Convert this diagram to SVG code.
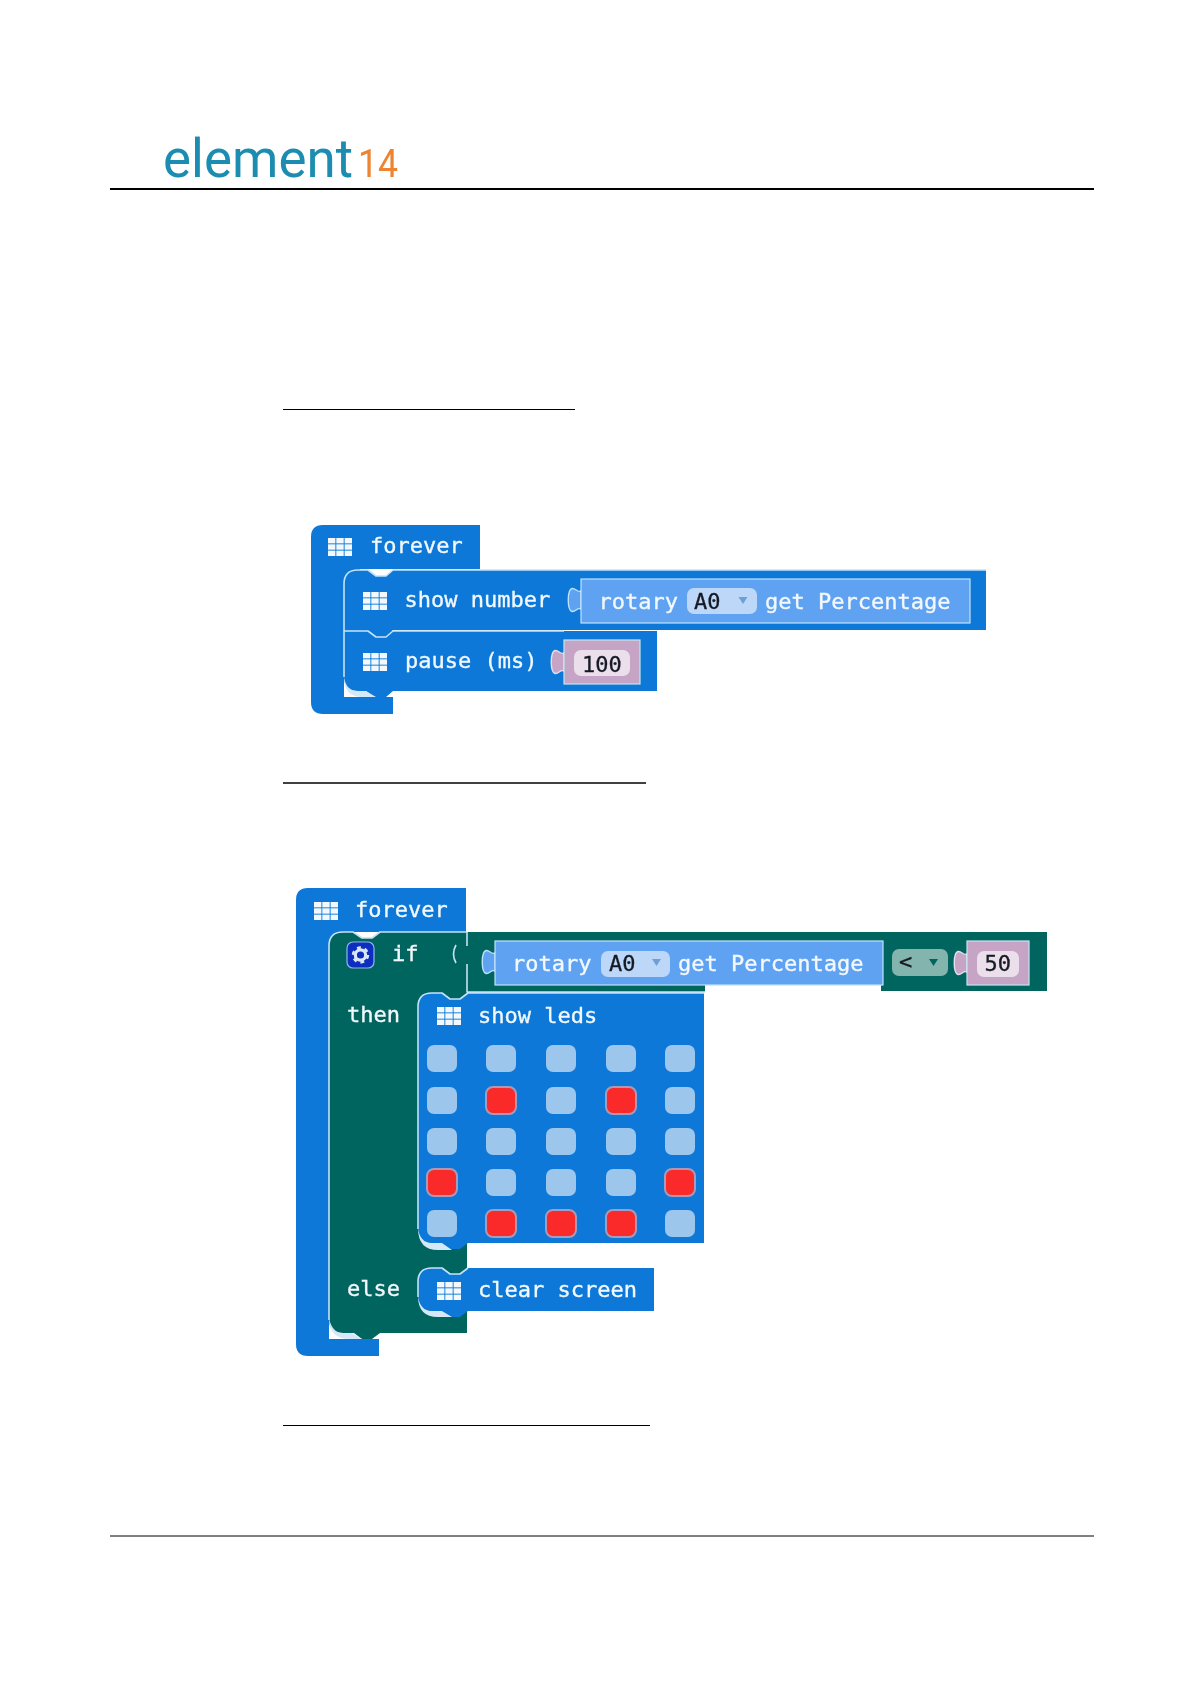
<svg xmlns="http://www.w3.org/2000/svg" width="1191" height="1684" viewBox="0 0 1191 1684">
<style>
.t{font-family:"DejaVu Sans Mono","Liberation Mono",monospace;font-size:22px;fill:#f2f8fd;stroke:#f2f8fd;stroke-width:.35}
.d{font-family:"DejaVu Sans Mono","Liberation Mono",monospace;font-size:22px;fill:#141a24;stroke:#141a24;stroke-width:.3}
.blue{fill:#0878d8}
.teal{fill:#05655f}
.val{fill:#5fa2f2;stroke:#bfe3fa;stroke-width:1.2}
.num{fill:#c6a4c6;stroke:#c4e6f0;stroke-width:1.2}
.tab{fill:#5fa2f2;stroke:#bfe3fa;stroke-width:1.4}
.tabn{fill:#c6a4c6;stroke:#e6e0ee;stroke-width:1.4}
.inner{fill:#ecdfec}
.dd{fill:#bcd7f7}
.hl{fill:none;stroke:#c6e2f6;stroke-width:1.6;stroke-linejoin:round}
.off{fill:#9cc6ec}
.on{fill:#fb2a2c;stroke:#a89ab8;stroke-width:2}
.rule{stroke:#000;fill:none}
</style>
<defs>
<g id="grid" fill="#f2f8fd">
<rect x="0" y="0" width="7.4" height="5.4"/><rect x="8.3" y="0" width="7.4" height="5.4"/><rect x="16.6" y="0" width="7.4" height="5.4"/>
<rect x="0" y="6.3" width="7.4" height="5.4"/><rect x="8.3" y="6.3" width="7.4" height="5.4"/><rect x="16.6" y="6.3" width="7.4" height="5.4"/>
<rect x="0" y="12.6" width="7.4" height="5.4"/><rect x="8.3" y="12.6" width="7.4" height="5.4"/><rect x="16.6" y="12.6" width="7.4" height="5.4"/>
</g>
<path id="tabshape" d="M13,3 C9,5 8,0 4,0.5 C-1,2 -1,22 4,23.5 C8,24 9,19 13,21 Z"/>
<rect id="led" width="30" height="27" rx="7"/>
<filter id="soft" x="-2%" y="-2%" width="104%" height="104%"><feGaussianBlur stdDeviation="0.45"/></filter>
</defs>
<rect width="1191" height="1684" fill="#fff"/>

<g id="header">
<g filter="url(#soft)">
<text x="163" y="177" font-family="Roboto,'Open Sans',sans-serif" font-weight="400" font-size="53" fill="#1a8db0" textLength="190" lengthAdjust="spacingAndGlyphs">element</text>
<text x="358" y="177" font-family="Roboto,'Open Sans',sans-serif" font-weight="400" font-size="39" fill="#ee8330" textLength="40" lengthAdjust="spacingAndGlyphs">14</text>
</g>
<line class="rule" x1="110" y1="189" x2="1094" y2="189" stroke-width="2"/>
</g>

<g id="rules">
<line class="rule" x1="283" y1="409.500" x2="575" y2="409.500" stroke-width="1"/>
<line class="rule" x1="283" y1="783" x2="646" y2="783" stroke-width="1.600"/>
<line class="rule" x1="283" y1="1425.500" x2="650" y2="1425.500" stroke-width="1"/>
<line class="rule" x1="110" y1="1536" x2="1094" y2="1536" stroke-width="1"/>
</g>

<g id="program-one" filter="url(#soft)">
<g id="forever-1">
<path class="blue" d="M311,537 Q311,525 323,525 H480 V569 H360 V584 H344 V697 H393 V714 H323 Q311,714 311,702 Z"/>
<use href="#grid" x="328" y="538"/>
<text class="t" x="370" y="553">forever</text>
</g>
<g id="pause">
<path class="blue" d="M344,631 H657 V691 H393 L386,697 H374 L366,691 H358 Q344,691 344,677 Z"/>
<path d="M344,677 Q344,697 362,697 H376 L366,691 H358 Q346,691 344,677 Z" fill="#d4e8f8"/>
<use href="#grid" x="363" y="653"/>
<text class="t" x="405" y="668">pause (ms)</text>
<use href="#tabshape" class="tabn" x="551" y="650"/>
<rect class="num" x="564" y="640" width="76" height="44"/>
<rect class="inner" x="574" y="650" width="56" height="26" rx="7"/>
<text class="d" x="582" y="672">100</text>
</g>
<g id="show-number">
<path class="blue" d="M344,584 Q344,570 358,570 H368 L376,576 H386 L393,570 H986 V630 H393 L386,636 H376 L368,631 H344 Z"/>
<path class="hl" d="M344,677 V584 Q344,570 358,570 H368 L376,576 H386 L393,570 H986"/>
<path class="hl" d="M344,631 H368 L376,637 H386 L393,631 H564"/>
<use href="#grid" x="363" y="592"/>
<text class="t" x="404.500" y="607">show number</text>
<use href="#tabshape" class="tab" x="568" y="588"/>
<rect class="val" x="581" y="579" width="389" height="44"/>
<rect class="dd" x="687" y="588" width="70" height="26" rx="7"/>
<text class="t" x="598.500" y="609">rotary</text>
<text class="d" x="694" y="609">A0</text>
<path d="M738.500,597 H747.500 L743,604 Z" fill="#6f9fd6"/>
<text class="t" x="765" y="609">get Percentage</text>
</g>
</g>

<g id="program-two" filter="url(#soft)">
<g id="forever-2">
<path class="blue" d="M296,900 Q296,888 308,888 H466 V932 H345 V946 H329 V1339 H379 V1356 H308 Q296,1356 296,1344 Z"/>
<use href="#grid" x="314" y="902"/>
<text class="t" x="355" y="917">forever</text>
</g>
<g id="if-block">
<path class="teal" d="M329,946 Q329,932 343,932 H353 L362,938 H372 L380,932 H1047 V991 H881 V985 H705 V992 H467 V1333 H380 L372,1339 H362 L354,1333 H343 Q329,1333 329,1320 Z"/>
<path d="M329,1318 Q329,1339 350,1339 H362 L352,1333 H343 Q332,1333 329,1318 Z" fill="#d4e8f8"/>
<path class="hl" d="M329,1320 V946 Q329,932 343,932 H353 L362,938 H372 L380,932 H467 M467,932 V946 M467,964 V992 H705"/>
<path d="M456,945 Q451,954 456,963" fill="none" stroke="#c6e2f6" stroke-width="1.600"/>
<rect x="347" y="942" width="27" height="26" rx="6" fill="#0b2dbe" stroke="#8fb8e8" stroke-width="1.200"/>
<circle cx="360.500" cy="955" r="5.200" fill="none" stroke="#dbe7f6" stroke-width="3.200"/>
<circle cx="360.500" cy="955" r="7.500" fill="none" stroke="#dbe7f6" stroke-width="2.400" stroke-dasharray="3.900 4"/>
<text class="t" x="392" y="961">if</text>
<text class="t" x="347" y="1022">then</text>
<text class="t" x="347" y="1296">else</text>
</g>
<g id="condition">
<use href="#tabshape" class="tab" x="482" y="950"/>
<rect class="val" x="495" y="941" width="388" height="44"/>
<text class="t" x="512" y="971">rotary</text>
<rect class="dd" x="601" y="951" width="69" height="26" rx="7"/>
<text class="d" x="609" y="971">A0</text>
<path d="M652,959 H661 L656.500,966 Z" fill="#6f9fd6"/>
<text class="t" x="678" y="971">get Percentage</text>
<rect x="892" y="949" width="56" height="27" rx="7" fill="#84b4ae"/>
<text class="d" x="899" y="969">&lt;</text>
<path d="M929,959 H938 L933.500,966 Z" fill="#05655f"/>
<use href="#tabshape" class="tabn" x="954" y="951"/>
<rect class="num" x="967" y="941" width="62" height="44"/>
<rect class="inner" x="977" y="951" width="42" height="26" rx="7"/>
<text class="d" x="984.500" y="971">50</text>
</g>
<g id="show-leds">
<path class="blue" d="M418,1007 Q418,993 432,993 H442 L450,999 H460 L468,993 H704 V1243 H468 L460,1249 H450 L442,1243 H432 Q418,1243 418,1229 Z"/>
<path d="M418,1228 Q418,1250 438,1250 H452 L442,1243 H432 Q420,1243 418,1228 Z" fill="#d4e8f8"/>
<path class="hl" d="M418,1229 V1007 Q418,993 432,993 H442 L450,999 H460 L468,993 H704"/>
<use href="#grid" x="437" y="1007"/>
<text class="t" x="478" y="1023">show leds</text>
<g class="off">
<use href="#led" x="427" y="1045"/><use href="#led" x="486" y="1045"/><use href="#led" x="546" y="1045"/><use href="#led" x="606" y="1045"/><use href="#led" x="665" y="1045"/>
<use href="#led" x="427" y="1087"/><use href="#led" x="546" y="1087"/><use href="#led" x="665" y="1087"/>
<use href="#led" x="427" y="1128"/><use href="#led" x="486" y="1128"/><use href="#led" x="546" y="1128"/><use href="#led" x="606" y="1128"/><use href="#led" x="665" y="1128"/>
<use href="#led" x="486" y="1169"/><use href="#led" x="546" y="1169"/><use href="#led" x="606" y="1169"/>
<use href="#led" x="427" y="1210"/><use href="#led" x="665" y="1210"/>
</g>
<g class="on">
<use href="#led" x="486" y="1087"/><use href="#led" x="606" y="1087"/>
<use href="#led" x="427" y="1169"/><use href="#led" x="665" y="1169"/>
<use href="#led" x="486" y="1210"/><use href="#led" x="546" y="1210"/><use href="#led" x="606" y="1210"/>
</g>
</g>
<g id="clear-screen">
<path class="blue" d="M418,1282 Q418,1268 432,1268 H442 L450,1274 H460 L468,1268 H654 V1311 H468 L460,1317 H450 L442,1311 H432 Q418,1311 418,1297 Z"/>
<path d="M418,1296 Q418,1317 438,1317 H452 L442,1311 H432 Q420,1311 418,1296 Z" fill="#d4e8f8"/>
<path class="hl" d="M418,1297 V1282 Q418,1268 432,1268 H442 L450,1274 H460 L468,1268"/>
<use href="#grid" x="437" y="1282"/>
<text class="t" x="478" y="1297">clear screen</text>
</g>
</g>
</svg>
